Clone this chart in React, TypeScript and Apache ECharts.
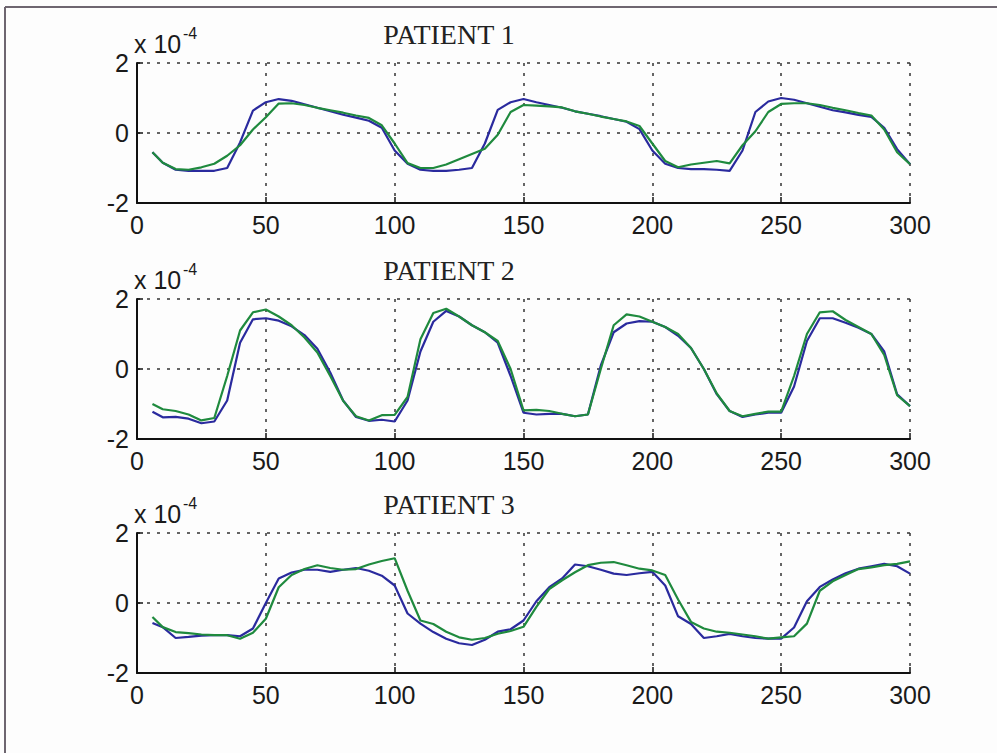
import React, { useEffect, useRef } from 'react';
import * as echarts from 'echarts';

const X = [6, 10, 15, 20, 25, 30, 35, 40, 45, 50, 55, 60, 65, 70, 75, 80, 85, 90, 95, 100,
  105, 110, 115, 120, 125, 130, 135, 140, 145, 150, 155, 160, 165, 170, 175, 180, 185, 190, 195, 200,
  205, 210, 215, 220, 225, 230, 235, 240, 245, 250, 255, 260, 265, 270, 275, 280, 285, 290, 295, 300];

const P1_BLUE = [-0.55, -0.85, -1.05, -1.08, -1.08, -1.08, -1.0, -0.27, 0.64, 0.88, 0.97, 0.92, 0.82, 0.72, 0.62, 0.52, 0.44, 0.35, 0.15, -0.5,
  -0.88, -1.05, -1.08, -1.08, -1.05, -1.0, -0.3, 0.66, 0.88, 0.97, 0.88, 0.8, 0.72, 0.62, 0.55, 0.48, 0.4, 0.32, 0.11, -0.5,
  -0.88, -1.0, -1.03, -1.03, -1.05, -1.08, -0.5, 0.6, 0.9, 1.0, 0.95, 0.85, 0.75, 0.65, 0.59, 0.52, 0.46, 0.15, -0.46, -0.89];
const P1_GREEN = [-0.55, -0.85, -1.03, -1.05, -0.98, -0.88, -0.65, -0.35, 0.1, 0.45, 0.84, 0.85, 0.8, 0.72, 0.65, 0.58, 0.5, 0.43, 0.22, -0.3,
  -0.86, -1.0, -1.0, -0.9, -0.75, -0.6, -0.45, -0.05, 0.6, 0.8, 0.78, 0.76, 0.73, 0.62, 0.55, 0.47, 0.4, 0.33, 0.2, -0.3,
  -0.8, -0.98, -0.9, -0.85, -0.8, -0.87, -0.35, 0.05, 0.6, 0.83, 0.85, 0.85, 0.8, 0.72, 0.65, 0.57, 0.5, 0.1, -0.55, -0.89];

const P2_BLUE = [-1.22, -1.38, -1.37, -1.42, -1.55, -1.5, -0.9, 0.75, 1.42, 1.45, 1.38, 1.22, 0.97, 0.58, -0.1, -0.9, -1.37, -1.48, -1.45, -1.5,
  -0.9, 0.5, 1.35, 1.66, 1.5, 1.25, 1.05, 0.75, -0.2, -1.25, -1.3, -1.28, -1.28, -1.35, -1.3, 0.1, 1.05, 1.3, 1.37, 1.35,
  1.2, 0.95, 0.6, 0.0, -0.72, -1.2, -1.37, -1.3, -1.25, -1.25, -0.5, 0.8, 1.45, 1.45, 1.32, 1.18, 1.0, 0.5, -0.72, -1.06];
const P2_GREEN = [-1.0, -1.15, -1.2, -1.3, -1.47, -1.4, -0.2, 1.1, 1.62, 1.7, 1.5, 1.25, 0.9, 0.47, -0.2, -0.91, -1.35, -1.47, -1.32, -1.31,
  -0.8, 0.85, 1.6, 1.72, 1.5, 1.25, 1.05, 0.8, 0.0, -1.18, -1.17, -1.2, -1.28, -1.35, -1.3, 0.0, 1.25, 1.56, 1.5, 1.35,
  1.2, 1.0, 0.6, 0.0, -0.7, -1.2, -1.35, -1.28, -1.22, -1.22, -0.2, 1.0, 1.62, 1.65, 1.4, 1.2, 1.0, 0.4, -0.75, -1.06];

const P3_BLUE = [-0.57, -0.69, -1.0, -0.97, -0.93, -0.92, -0.92, -0.95, -0.73, 0.0, 0.7, 0.87, 0.95, 0.95, 0.89, 0.95, 1.0, 0.92, 0.78, 0.5,
  -0.3, -0.59, -0.83, -1.02, -1.15, -1.2, -1.05, -0.82, -0.75, -0.5, 0.05, 0.45, 0.7, 1.1, 1.05, 0.95, 0.84, 0.8, 0.85, 0.89,
  0.5, -0.38, -0.6, -1.0, -0.95, -0.88, -0.95, -1.0, -1.02, -1.02, -0.7, 0.05, 0.46, 0.67, 0.85, 0.98, 1.05, 1.12, 1.05, 0.84];
const P3_GREEN = [-0.4, -0.69, -0.83, -0.86, -0.9, -0.92, -0.92, -1.02, -0.85, -0.45, 0.45, 0.8, 0.97, 1.08, 1.0, 0.95, 0.97, 1.1, 1.2, 1.28,
  0.35, -0.5, -0.6, -0.82, -0.98, -1.05, -1.0, -0.88, -0.8, -0.68, -0.11, 0.4, 0.65, 0.88, 1.08, 1.15, 1.17, 1.08, 0.98, 0.93,
  0.8, 0.1, -0.54, -0.73, -0.82, -0.85, -0.9, -0.95, -1.02, -0.98, -0.95, -0.59, 0.35, 0.62, 0.8, 0.97, 1.02, 1.08, 1.12, 1.19];

const TITLES = ['PATIENT 1', 'PATIENT 2', 'PATIENT 3'];
const BLUE_SERIES = [P1_BLUE, P2_BLUE, P3_BLUE];
const GREEN_SERIES = [P1_GREEN, P2_GREEN, P3_GREEN];

const GRID_TOPS = [63, 299, 533];
const GRID_LEFT = 137;
const GRID_W = 773;
const GRID_H = 140;
const BLUE = '#2a2a9e';
const GREEN = '#1f8a3e';

export default function App() {
  const ref = useRef<HTMLDivElement>(null);
  useEffect(() => {
    const chart = echarts.init(ref.current!, null, { renderer: 'svg' });
    const dotted = { color: '#333', width: 1.5, type: [3, 7] as any };
    const grid = GRID_TOPS.map((t) => ({ left: GRID_LEFT, top: t, width: GRID_W, height: GRID_H }));
    const xAxis = GRID_TOPS.map((_, i) => ({
      type: 'value', gridIndex: i, min: 0, max: 300, interval: 50,
      axisLine: { show: true, onZero: false, lineStyle: { color: '#111', width: 2 } },
      axisTick: { show: true, inside: true, length: 6, lineStyle: { color: '#111', width: 1.5 } },
      axisLabel: { fontSize: 25, fontFamily: 'Liberation Sans', color: '#1a1a1a', margin: 9 },
      splitLine: { show: true, lineStyle: dotted },
    }));
    const yAxis = GRID_TOPS.map((_, i) => ({
      type: 'value', gridIndex: i, min: -2, max: 2, interval: 2,
      axisLine: { show: true, onZero: false, lineStyle: { color: '#111', width: 2 } },
      axisTick: { show: true, inside: true, length: 6, lineStyle: { color: '#111', width: 1.5 } },
      axisLabel: { fontSize: 25, fontFamily: 'Liberation Sans', color: '#1a1a1a', margin: 8 },
      splitLine: { show: true, lineStyle: dotted },
    }));
    const series: any[] = [];
    GRID_TOPS.forEach((_, i) => {
      series.push({
        type: 'line', xAxisIndex: i, yAxisIndex: i, showSymbol: false, silent: true,
        data: X.map((x, k) => [x, BLUE_SERIES[i][k]]),
        lineStyle: { color: BLUE, width: 2.2 },
      });
      series.push({
        type: 'line', xAxisIndex: i, yAxisIndex: i, showSymbol: false, silent: true,
        data: X.map((x, k) => [x, GREEN_SERIES[i][k]]),
        lineStyle: { color: GREEN, width: 2.2 },
      });
    });
    const graphic: any[] = [
      { type: 'line', shape: { x1: 5, y1: 7, x2: 997, y2: 7 }, style: { stroke: '#6e6670', lineWidth: 2 } },
      { type: 'line', shape: { x1: 5, y1: 7, x2: 5, y2: 753 }, style: { stroke: '#6e6670', lineWidth: 2 } },
    ];
    GRID_TOPS.forEach((t, i) => {
      graphic.push({
        type: 'text', x: 449, y: t - 29,
        style: { text: TITLES[i], font: '28px "Liberation Serif"', fill: '#222', textAlign: 'center', textVerticalAlign: 'middle' },
      });
      graphic.push({
        type: 'text', x: 134, y: t - 19,
        style: { text: 'x 10', font: '25px "Liberation Sans"', fill: '#1a1a1a', textAlign: 'left', textVerticalAlign: 'middle' },
      });
      graphic.push({
        type: 'text', x: 183, y: t - 30,
        style: { text: '-4', font: '16px "Liberation Sans"', fill: '#1a1a1a', textAlign: 'left', textVerticalAlign: 'middle' },
      });
    });
    chart.setOption({
      animation: false,
      backgroundColor: '#fdfdfd',
      grid, xAxis, yAxis, series, graphic,
    });
    return () => chart.dispose();
  }, []);
  return <div ref={ref} style={{ position: 'fixed', left: 0, top: 0, width: 997, height: 753 }} />;
}
